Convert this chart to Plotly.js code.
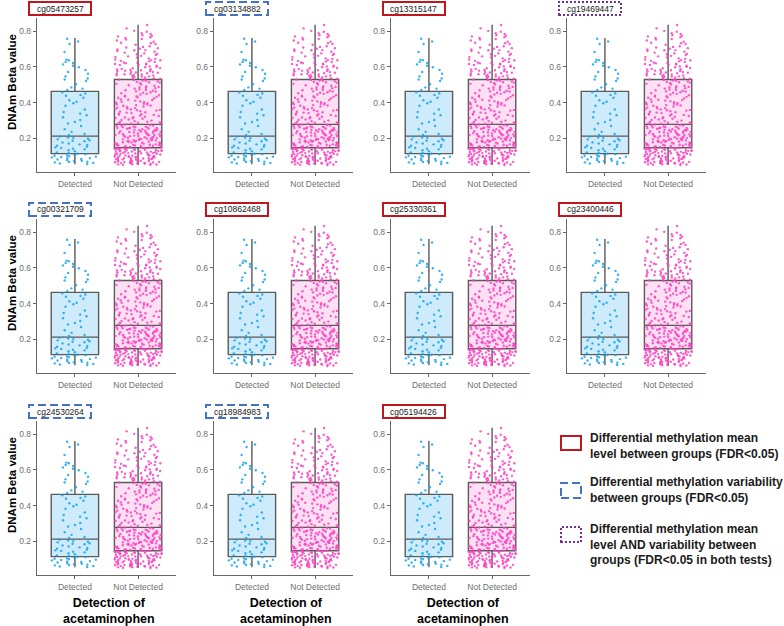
<!DOCTYPE html>
<html><head><meta charset="utf-8">
<script src="https://cdn.plot.ly/plotly-3.0.1.min.js"></script>
<style>html,body{margin:0;padding:0;background:#fff}#chart{width:784px;height:626px}</style>
</head><body><div id="chart"></div>
<script>
// ---------------- data ----------------
const probes = ['cg05473257','cg03134882','cg13315147','cg19469447',
                'cg00321709','cg10862468','cg25330361','cg23400446',
                'cg24530264','cg18984983','cg05194426'];
const probeType = ['mean','var','mean','both','var','mean','mean','mean','var','var','mean'];
const groups = ['Detected','Not Detected'];
const q1 = [0.114, 0.147];
const median = [0.212, 0.278];
const q3 = [0.463, 0.529];
const lowerFence = [0.054, 0.05];
const upperFence = [0.762, 0.836];
const detectedValues = [
 0.056,0.071,0.093,0.108,0.062,0.084,0.099,0.113,0.067,0.077,0.089,0.104,0.059,0.074,0.095,0.111,0.065,0.081,0.087,0.102,0.069,0.097,
 0.121,0.138,0.152,0.171,0.189,0.204,0.127,0.146,0.158,0.166,0.183,0.197,0.133,0.141,0.162,0.177,0.194,0.209,0.118,0.149,0.186,0.201,
 0.224,0.251,0.283,0.318,0.347,0.382,0.413,0.438,0.236,0.269,0.302,0.329,0.361,0.396,0.427,0.451,0.218,0.291,0.338,0.405,0.443,0.458,
 0.471,0.503,0.535,0.562,0.598,0.628,0.478,0.521,0.547,0.583,0.614,0.637,0.485,0.529,0.572,0.606,0.622,0.641,0.684,0.728,0.742,0.758];
const notDetectedValues = [
 0.052,0.061,0.074,0.083,0.095,0.107,0.118,0.129,0.136,0.144,0.055,0.067,0.071,0.088,0.092,0.103,0.111,0.124,0.133,0.141,
 0.058,0.063,0.079,0.081,0.097,0.101,0.115,0.121,0.138,0.147,0.050,0.069,0.076,0.086,0.091,0.109,0.113,0.127,0.131,0.139,
 0.057,0.064,0.073,0.089,0.094,0.105,0.119,0.122,0.134,0.146,0.053,0.066,0.078,0.084,0.098,0.102,0.116,0.125,0.137,0.142,
 0.060,0.072,0.077,0.087,0.093,0.108,0.112,0.128,0.132,0.145,0.054,0.068,0.075,0.082,0.099,0.104,0.117,0.123,0.135,0.140,
 0.059,0.062,0.070,0.085,0.096,0.106,0.114,0.126,0.130,0.143,
 0.151,0.163,0.178,0.186,0.199,0.212,0.224,0.238,0.251,0.266,0.155,0.168,0.172,0.191,0.203,0.217,0.229,0.243,0.257,0.271,
 0.149,0.161,0.176,0.188,0.195,0.208,0.221,0.235,0.248,0.262,0.158,0.166,0.182,0.193,0.206,0.215,0.232,0.245,0.259,0.274,
 0.153,0.170,0.179,0.184,0.201,0.219,0.227,0.240,0.254,0.268,0.160,0.164,0.175,0.197,0.209,0.213,0.236,0.249,0.261,0.277,
 0.157,0.173,0.181,0.190,0.204,0.222,0.231,0.242,0.256,0.265,0.152,0.167,0.185,0.194,0.211,0.218,0.226,0.246,0.253,0.272,
 0.159,0.162,0.177,0.189,0.198,0.214,0.233,0.239,0.258,0.263,
 0.283,0.305,0.331,0.352,0.378,0.402,0.427,0.455,0.481,0.509,0.291,0.312,0.338,0.361,0.386,0.411,0.436,0.462,0.488,0.516,
 0.287,0.318,0.344,0.367,0.393,0.418,0.441,0.469,0.494,0.522,0.296,0.325,0.349,0.372,0.397,0.423,0.449,0.474,0.501,0.527,
 0.281,0.309,0.335,0.357,0.382,0.407,0.432,0.458,0.485,0.512,0.299,0.321,0.341,0.364,0.389,0.414,0.445,0.466,0.491,0.519,
 0.285,0.314,0.328,0.355,0.375,0.399,0.429,0.452,0.478,0.505,0.293,0.302,0.346,0.369,0.384,0.416,0.438,0.463,0.497,0.514,
 0.289,0.316,0.333,0.359,0.391,0.405,0.434,0.471,0.483,0.524,
 0.531,0.538,0.546,0.552,0.561,0.569,0.577,0.585,0.594,0.603,0.534,0.541,0.549,0.557,0.565,0.572,0.581,0.589,0.598,0.611,
 0.536,0.544,0.553,0.559,0.567,0.575,0.583,0.592,0.607,0.618,0.529,0.547,0.555,0.563,0.571,0.579,0.587,0.601,0.614,0.625,
 0.612,0.621,0.628,0.634,0.641,0.648,0.655,0.662,0.671,0.680,0.616,0.631,0.638,0.645,0.652,0.667,0.676,0.689,0.698,0.709,
 0.623,0.637,0.659,0.673,0.685,0.694,0.705,0.716,0.728,0.741,0.693,0.712,0.724,0.735,0.748,0.757,0.766,0.771,0.778,0.784,
 0.702,0.733,0.753,0.762,0.775,0.789,0.797,0.802,0.816,0.835];
const groupValues = [detectedValues, notDetectedValues];
const yTicks = [0.2, 0.4, 0.6, 0.8];
const yTitle = 'DNAm Beta value';
const xTitle = 'Detection of<br>acetaminophen';
const legendTypes = ['mean','var','both'];
const legendTexts = [
 'Differential methylation mean<br>level between groups (FDR&lt;0.05)',
 'Differential methylation variability<br>between groups (FDR&lt;0.05)',
 'Differential methylation mean<br>level AND variability between<br>groups (FDR&lt;0.05 in both tests)'];

// ---------------- style ----------------
const W = 784, H = 626;
const colLeft = [37, 214, 391, 567], panelW = 139;
const rowTop = [18, 219, 421], panelH = 154;
const boxFill = ['#cdebfb', '#fde0f3'];
const pointColor = ['#12a4ec', '#ff3fbf'];
const frameStyle = {
  mean: {color: '#c0161e', dash: 'solid', width: 2},
  var:  {color: '#4472c4', dash: '8px,4px', width: 2},
  both: {color: '#7030a0', dash: '2px,2px', width: 2}
};
const FONT = 'Arial, "Liberation Sans", sans-serif';
const px = v => v / W, py = v => 1 - v / H;

const traces = [];
const layout = {
  width: W, height: H, margin: {l: 0, r: 0, t: 0, b: 0},
  paper_bgcolor: '#fff', plot_bgcolor: '#fff', showlegend: false,
  boxmode: 'overlay', font: {family: FONT},
  shapes: [], annotations: []
};

probes.forEach((probe, i) => {
  const col = i % 4, row = Math.floor(i / 4);
  const sfx = i === 0 ? '' : String(i + 1);
  const xa = 'x' + sfx, ya = 'y' + sfx;
  const L = colLeft[col], T = rowTop[row];
  layout['xaxis' + sfx] = {
    domain: [px(L), px(L + panelW)], anchor: ya, type: 'category',
    categoryorder: 'array', categoryarray: groups, range: [-0.6, 1.6],
    showline: true, linecolor: '#666', linewidth: 1.3, ticks: 'outside', ticklen: 3,
    tickcolor: '#666', tickfont: {size: 8.5, color: '#6f6f6f', family: FONT},
    showgrid: false, zeroline: false, fixedrange: true
  };
  layout['yaxis' + sfx] = {
    domain: [py(T + panelH), py(T)], anchor: xa, range: [0.011, 0.874],
    tickvals: yTicks, tickformat: '.1f',
    showline: true, linecolor: '#666', linewidth: 1.3, ticks: 'outside', ticklen: 3,
    tickcolor: '#666', tickfont: {size: 8.5, color: '#6f6f6f', family: FONT},
    showgrid: false, zeroline: false, fixedrange: true
  };
  groups.forEach((g, k) => {
    traces.push({
      type: 'box', x: [g], q1: [q1[k]], median: [median[k]], q3: [q3[k]],
      lowerfence: [lowerFence[k]], upperfence: [upperFence[k]],
      xaxis: xa, yaxis: ya, width: 0.75, whiskerwidth: 0,
      fillcolor: boxFill[k], line: {color: '#5a5a5a', width: 1.4},
      boxpoints: false, hoverinfo: 'skip'
    });
  });
  groups.forEach((g, k) => {
    traces.push({
      type: 'box', x0: g, y: groupValues[k], xaxis: xa, yaxis: ya, width: 0.75,
      boxpoints: 'all', jitter: 1, pointpos: 0, whiskerwidth: 0,
      fillcolor: 'rgba(0,0,0,0)', line: {color: 'rgba(0,0,0,0)', width: 0},
      marker: {color: pointColor[k], size: 2.4, opacity: 0.85},
      hoverinfo: 'skip'
    });
  });
  // probe label frame
  const st = frameStyle[probeType[i]];
  layout.shapes.push({
    type: 'rect', xref: 'paper', yref: 'paper',
    x0: px(L - 8), x1: px(L + 54), y0: py(T - 3), y1: py(T - 16),
    line: {color: st.color, width: st.width, dash: st.dash}, fillcolor: 'rgba(0,0,0,0)'
  });
  layout.annotations.push({
    xref: 'paper', yref: 'paper', x: px(L + 23), y: py(T - 9.5),
    text: probe, showarrow: false, xanchor: 'center', yanchor: 'middle',
    font: {size: 8.5, color: '#222', family: FONT}
  });
  if (col === 0) {
    layout.annotations.push({
      xref: 'paper', yref: 'paper', x: px(12), y: py(T + 64),
      text: '<b>' + yTitle + '</b>', textangle: -90, showarrow: false,
      xanchor: 'center', yanchor: 'middle', font: {size: 11.5, color: '#000', family: FONT}
    });
  }
  if (row === 2) {
    layout.annotations.push({
      xref: 'paper', yref: 'paper', x: px(L + panelW / 2 + 2), y: py(611),
      text: '<b>' + xTitle + '</b>', showarrow: false,
      xanchor: 'center', yanchor: 'middle', font: {size: 12.5, color: '#000', family: FONT}
    });
  }
});

// legend (bottom-right slot)
const legendSym = [[436, 450], [483, 498], [527, 542]];
const legendTextY = [446, 490, 544];
legendTypes.forEach((t, j) => {
  const st = frameStyle[t];
  layout.shapes.push({
    type: 'rect', xref: 'paper', yref: 'paper',
    x0: px(561), x1: px(581), y0: py(legendSym[j][1]), y1: py(legendSym[j][0]),
    line: {color: st.color, width: st.width, dash: st.dash}, fillcolor: 'rgba(0,0,0,0)'
  });
  layout.annotations.push({
    xref: 'paper', yref: 'paper', x: px(588), y: py(legendTextY[j]),
    text: '<b>' + legendTexts[j] + '</b>', showarrow: false, align: 'left',
    xanchor: 'left', yanchor: 'middle', font: {size: 12, color: '#1a1a1a', family: FONT}
  });
});

Plotly.newPlot('chart', traces, layout, {staticPlot: true, displayModeBar: false});
</script></body></html>
